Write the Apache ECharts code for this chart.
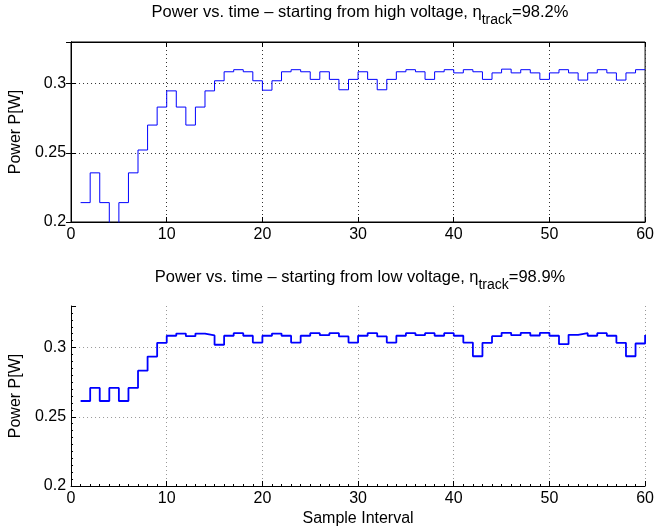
<!DOCTYPE html>
<html>
<head>
<meta charset="utf-8">
<script src="https://cdn.jsdelivr.net/npm/echarts@6/dist/echarts.min.js"></script>
<style>
  html, body { margin: 0; padding: 0; background: #fff; }
  #chart { width: 657px; height: 531px; }
</style>
</head>
<body>
<div id="chart"></div>
<script>
// sample index 1..60, value held until the next sample (stairs)
const samples = [];
for (let i = 1; i <= 60; i++) samples.push(i);

// starting from high voltage
const powerHigh = [
  0.214, 0.2355, 0.214, 0.19, 0.214, 0.2355, 0.252, 0.270, 0.283, 0.2947,
  0.283, 0.270, 0.283, 0.2947, 0.302, 0.3085, 0.310, 0.3085, 0.302, 0.2952,
  0.302, 0.3085, 0.310, 0.3085, 0.303, 0.3085, 0.303, 0.2955, 0.303, 0.3085,
  0.303, 0.2955, 0.303, 0.3085, 0.310, 0.3085, 0.303, 0.3085, 0.310, 0.3077,
  0.310, 0.3085, 0.303, 0.3077, 0.3104, 0.3077, 0.310, 0.3077, 0.303, 0.3077,
  0.310, 0.3077, 0.3025, 0.3077, 0.310, 0.3077, 0.3025, 0.3077, 0.310, 0.310
];

// starting from low voltage
const powerLow = [
  0.2614, 0.2708, 0.2614, 0.2708, 0.2614, 0.2708, 0.2833, 0.2935, 0.3034, 0.3085,
  0.3101, 0.3082, 0.3101, 0.3087, 0.302, 0.3085, 0.3104, 0.3085, 0.3036, 0.3085,
  0.3101, 0.3085, 0.3036, 0.3085, 0.3104, 0.3089, 0.3104, 0.308, 0.3036, 0.3085,
  0.3104, 0.308, 0.3036, 0.3085, 0.3104, 0.3089, 0.3104, 0.3085, 0.3104, 0.3085,
  0.3036, 0.2937, 0.3034, 0.3082, 0.3106, 0.3089, 0.3106, 0.3087, 0.3106, 0.3085,
  0.3024, 0.3092, 0.3104, 0.3085, 0.3104, 0.3085, 0.3034, 0.2937, 0.3029, 0.309
];

const xMin = 0, xMax = 60, xStep = 10;
const yMin = 0.2, yMax = 0.33, yStep = 0.05;
const yTickLabels = ['0.2', '0.25', '0.3'];

const font = 'Liberation Sans, Arial, Helvetica, sans-serif';
const fs = 16;

const chart = echarts.init(document.getElementById('chart'));

const lbl = { color: '#000', fontFamily: font, fontSize: fs };
const fmtY = v => {
  const s = String(Math.round(v * 1000) / 1000);
  return yTickLabels.indexOf(s) >= 0 ? s : '';
};

function bottomX(grid, gridColor, minor) {
  return {
    type: 'value', gridIndex: grid, min: xMin, max: xMax, interval: xStep,
    axisLine: { show: true, lineStyle: { color: '#000', width: 1 } },
    axisTick: { show: true, inside: true, length: 5, lineStyle: { color: '#000' } },
    minorTick: { show: minor, splitNumber: 10, length: 2, lineStyle: { color: '#000' } },
    axisLabel: Object.assign({ margin: 5 }, lbl),
    splitLine: { show: true, showMinLine: false, showMaxLine: true,
      lineStyle: { color: gridColor, type: [1, 3], width: 1 } }
  };
}
function leftY(grid, gridColor, minor) {
  return {
    type: 'value', gridIndex: grid, min: yMin, max: yMax, interval: yStep,
    name: 'Power P[W]', nameLocation: 'middle', nameGap: 45,
    nameTextStyle: { color: '#000', fontFamily: font, fontSize: fs },
    axisLine: { show: true, lineStyle: { color: '#000', width: 1 } },
    axisTick: { show: true, inside: true, length: 5, lineStyle: { color: '#000' } },
    minorTick: { show: minor, splitNumber: 10, length: 2, lineStyle: { color: '#000' } },
    axisLabel: Object.assign({ margin: 5, formatter: fmtY, showMaxLabel: false }, lbl),
    splitLine: { show: true, showMinLine: false, showMaxLine: false,
      lineStyle: { color: gridColor, type: [1, 3], width: 1 } }
  };
}

// subscript: push "track" down, keep the rest up
const titleRich = {
  a: { fontFamily: font, fontSize: 16.5, fontWeight: 'normal', color: '#000', lineHeight: 18, padding: [0, 0, 8, 0] },
  sub: { fontFamily: font, fontSize: 14, fontWeight: 'normal', color: '#000', lineHeight: 16, padding: [8, 0, 0, 0] }
};

const option = {
  animation: false,
  backgroundColor: '#fff',
  title: [
    {
      text: '{a|Power vs. time – starting from high voltage, η}{sub|track}{a|=98.2%}',
      left: 360, top: 7, textAlign: 'center', padding: 0,
      textStyle: { fontWeight: 'normal', rich: titleRich }
    },
    {
      text: '{a|Power vs. time – starting from low voltage, η}{sub|track}{a|=98.9%}',
      left: 360, top: 272, textAlign: 'center', padding: 0,
      textStyle: { fontWeight: 'normal', rich: titleRich }
    }
  ],
  grid: [
    { left: 71, top: 42, width: 577, height: 180, show: true, borderColor: '#000', borderWidth: 1, backgroundColor: 'transparent' },
    { left: 71, top: 306, width: 577, height: 180 }
  ],
  xAxis: [
    bottomX(0, '#333', false),
    {
      type: 'value', gridIndex: 0, position: 'top', min: xMin, max: xMax, interval: xStep,
      axisLine: { show: true, lineStyle: { color: '#000' } },
      axisTick: { show: true, inside: true, length: 5, lineStyle: { color: '#000' } },
      axisLabel: { show: false }, splitLine: { show: false }
    },
    Object.assign(bottomX(1, '#999', true), {
      name: 'Sample Interval', nameLocation: 'middle', nameGap: 25,
      nameTextStyle: { color: '#000', fontFamily: font, fontSize: fs }
    })
  ],
  yAxis: [
    leftY(0, '#333', false),
    {
      type: 'value', gridIndex: 0, position: 'right', min: yMin, max: yMax, interval: yStep,
      axisLine: { show: true, lineStyle: { color: '#000' } },
      axisTick: { show: true, inside: true, length: 5, lineStyle: { color: '#000' } },
      axisLabel: { show: false }, splitLine: { show: false }
    },
    leftY(1, '#999', true)
  ],
  series: [
    {
      type: 'line', xAxisIndex: 0, yAxisIndex: 0, step: 'end', symbol: 'none',
      lineStyle: { color: '#0000ff', width: 1 },
      data: samples.map((s, i) => [s, powerHigh[i]])
    },
    {
      type: 'line', xAxisIndex: 2, yAxisIndex: 2, step: 'end', symbol: 'none',
      lineStyle: { color: '#0000ff', width: 1.8 },
      data: samples.map((s, i) => [s, powerLow[i]])
    }
  ]
};

chart.setOption(option);
</script>
</body>
</html>
